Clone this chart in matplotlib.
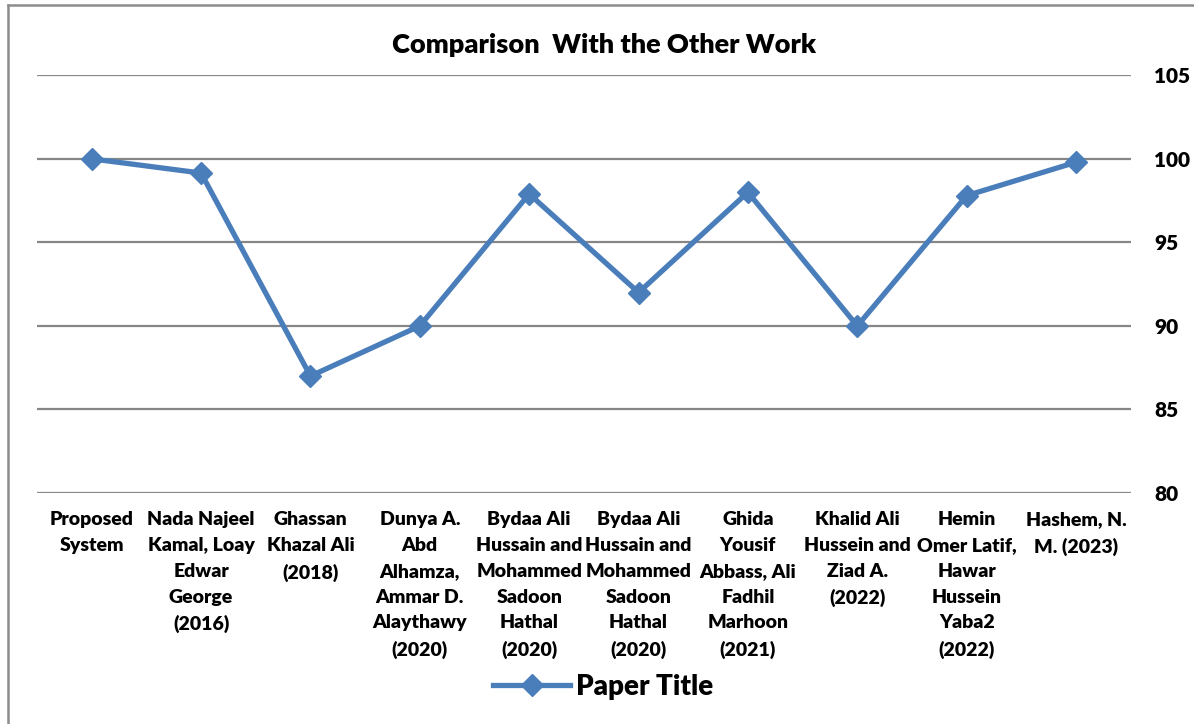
import matplotlib
matplotlib.use("Agg")
import matplotlib.pyplot as plt
from matplotlib import font_manager
from matplotlib.lines import Line2D

# pick a narrow bold sans that is installed
names = set(f.name for f in font_manager.fontManager.ttflist)
family = "DejaVu Sans"
for cand in ["Lato", "Open Sans", "Liberation Sans"]:
    if cand in names:
        family = cand
        break
plt.rcParams["font.family"] = family
plt.rcParams["font.weight"] = "heavy"

papers = [
    "Proposed\nSystem",
    "Nada Najeel\nKamal, Loay\nEdwar\nGeorge\n(2016)",
    "Ghassan\nKhazal Ali\n(2018)",
    "Dunya A.\nAbd\nAlhamza,\nAmmar D.\nAlaythawy\n(2020)",
    "Bydaa Ali\nHussain and\nMohammed\nSadoon\nHathal\n(2020)",
    "Bydaa Ali\nHussain and\nMohammed\nSadoon\nHathal\n(2020)",
    "Ghida\nYousif\nAbbass, Ali\nFadhil\nMarhoon\n(2021)",
    "Khalid Ali\nHussein and\nZiad A.\n(2022)",
    "Hemin\nOmer Latif,\nHawar\nHussein\nYaba2\n(2022)",
    "Hashem, N.\nM. (2023)",
]
accuracy = [100, 99.15, 87, 90, 97.9, 92, 98, 90, 97.8, 99.8]
yticks = [80, 85, 90, 95, 100, 105]

blue = "#4A7EBB"
grid = "#868686"

fig = plt.figure(figsize=(11.94, 7.24), dpi=100)
ax = fig.add_axes([0.031, 0.319, 0.916, 0.577])

x = list(range(len(papers)))
ax.plot(x, accuracy, color=blue, lw=3.8, marker="D", ms=11,
        markerfacecolor=blue, markeredgecolor=blue, solid_joinstyle="miter")

ax.set_xlim(-0.5, len(papers) - 0.5)
ax.set_ylim(80, 105)
ax.set_yticks(yticks)
ax.yaxis.tick_right()
ax.tick_params(axis="y", length=0, pad=17, labelsize=15)
ax.set_xticks(x)
ax.set_xticklabels(papers, fontsize=14, linespacing=1.63)
ax.tick_params(axis="x", length=0, pad=13)
for spine in ax.spines.values():
    spine.set_visible(False)
ax.set_axisbelow(True)
ax.grid(axis="y", color=grid, lw=1.6)

fig.text(0.506, 0.938, "Comparison  With the Other Work", ha="center",
         va="center", fontsize=19.5)

handle = Line2D([], [], color=blue, lw=3.8, marker="D", ms=11)
fig.legend([handle], ["Paper Title"], loc="center", bbox_to_anchor=(0.505, 0.051),
           frameon=False, fontsize=20, handlelength=2.8, handletextpad=0.2)

# chart frame on the left and top
fig.add_artist(Line2D([0.0065, 0.0065], [0, 0.9925], color="#8C8C8C", lw=1.8,
                      transform=fig.transFigure))
fig.add_artist(Line2D([0.0065, 1], [0.9925, 0.9925], color="#8C8C8C", lw=1.8,
                      transform=fig.transFigure))

fig.savefig("out.png", dpi=100)
